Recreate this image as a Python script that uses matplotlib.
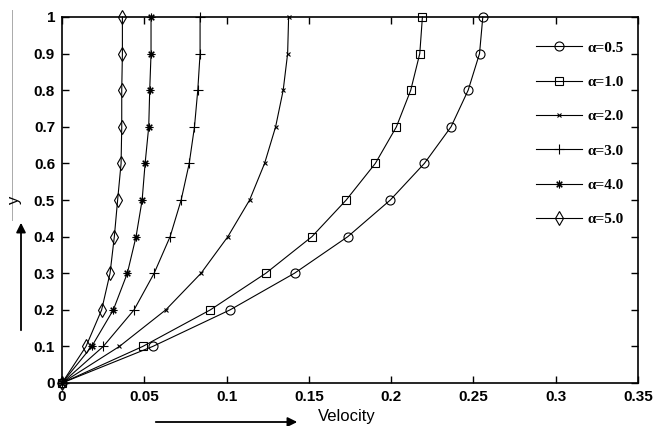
import matplotlib as mpl
mpl.use('Agg')
import matplotlib.pyplot as plt
from matplotlib.lines import Line2D

W, H = 662, 426

y_vals = [0, 0.1, 0.2, 0.3, 0.4, 0.5, 0.6, 0.7, 0.8, 0.9, 1.0]

vel_a05 = [0, 0.0552, 0.1022, 0.1413, 0.1737, 0.1995, 0.2202, 0.2364, 0.2468, 0.2537, 0.2557]
vel_a10 = [0, 0.0491, 0.0902, 0.1239, 0.1519, 0.1727, 0.1904, 0.2032, 0.2119, 0.2174, 0.2190]
vel_a20 = [0, 0.0349, 0.0631, 0.0845, 0.1008, 0.1140, 0.1231, 0.1298, 0.1344, 0.1371, 0.1377]
vel_a30 = [0, 0.0251, 0.0438, 0.0560, 0.0657, 0.0724, 0.0773, 0.0805, 0.0825, 0.0839, 0.0839]
vel_a40 = [0, 0.0181, 0.0312, 0.0397, 0.0450, 0.0487, 0.0505, 0.0527, 0.0533, 0.0541, 0.0541]
vel_a50 = [0, 0.0146, 0.0241, 0.0292, 0.0318, 0.0338, 0.0359, 0.0363, 0.0363, 0.0367, 0.0367]

labels = ['α=0.5', 'α=1.0', 'α=2.0', 'α=3.0', 'α=4.0', 'α=5.0']
x_ticks = [0, 0.05, 0.1, 0.15, 0.2, 0.25, 0.3, 0.35]
x_tick_labels = ['0', '0.05', '0.1', '0.15', '0.2', '0.25', '0.3', '0.35']
y_ticks = [0, 0.1, 0.2, 0.3, 0.4, 0.5, 0.6, 0.7, 0.8, 0.9, 1.0]
y_tick_labels = ['0', '0.1', '0.2', '0.3', '0.4', '0.5', '0.6', '0.7', '0.8', '0.9', '1']

series = [vel_a05, vel_a10, vel_a20, vel_a30, vel_a40, vel_a50]
# marker, size, edge width
styles = [
    ('o', 6.5, 0.8),
    ('s', 6.0, 0.8),
    ('x', 3.5, 0.8),
    ('+', 7.0, 0.8),
    ((8, 2, 0), 5.5, 0.8),
    ('d', 7.0, 0.8),
]

fig = plt.figure(figsize=(W / 100, H / 100), dpi=100)
ax = fig.add_axes([62 / W, 1 - 383 / H, (638 - 62) / W, (383 - 17) / H])

for vals, lab, (mk, ms, mew) in zip(series, labels, styles):
    ax.plot(vals, y_vals, color='black', lw=0.8, marker=mk, ms=ms,
            mew=mew, mfc='none', mec='black', label=lab, clip_on=False, zorder=3)

ax.set_xlim(0, 0.35)
ax.set_ylim(0, 1)
ax.set_xticks(x_ticks)
ax.set_xticklabels(x_tick_labels)
ax.set_yticks(y_ticks)
ax.set_yticklabels(y_tick_labels)
ax.tick_params(direction='in', length=5, width=1, top=True, right=True,
               pad=5, labelsize=11)
for lbl in ax.get_xticklabels() + ax.get_yticklabels():
    lbl.set_fontfamily('Liberation Sans')
    lbl.set_fontweight('bold')
for sp in ax.spines.values():
    sp.set_linewidth(1.2)

leg = ax.legend(loc='upper left', bbox_to_anchor=(536 / W, 1 - 41 / H),
                bbox_transform=fig.transFigure, frameon=False,
                prop={'family': 'Liberation Serif', 'weight': 'bold', 'size': 11},
                handlelength=3.0, labelspacing=1.35, handletextpad=0.4,
                borderpad=0, borderaxespad=0)

# axis labels with arrows, placed like the original figure
fig.text(347 / W, 1 - 417 / H, 'Velocity', ha='center', va='center',
         fontsize=12, family='Liberation Sans')
fig.text(15 / W, 1 - 200 / H, 'y', ha='center', va='center', rotation=90,
         fontsize=12, family='Liberation Sans')
fig.add_artist(plt.Annotation('', xy=(300 / W, 1 - 422 / H), xytext=(153 / W, 1 - 422 / H),
                              xycoords='figure fraction',
                              arrowprops=dict(arrowstyle='-|>', color='black', lw=1.3,
                                              mutation_scale=14)))
fig.add_artist(plt.Annotation('', xy=(21 / W, 1 - 220 / H), xytext=(21 / W, 1 - 333 / H),
                              xycoords='figure fraction',
                              arrowprops=dict(arrowstyle='-|>', color='black', lw=1.3,
                                              mutation_scale=14)))
fig.add_artist(Line2D([12 / W, 12 / W], [1 - 10 / H, 1 - 220 / H],
                      transform=fig.transFigure, color='#aaaaaa', lw=0.7))

fig.savefig('out.png', dpi=100)
plt.close(fig)
